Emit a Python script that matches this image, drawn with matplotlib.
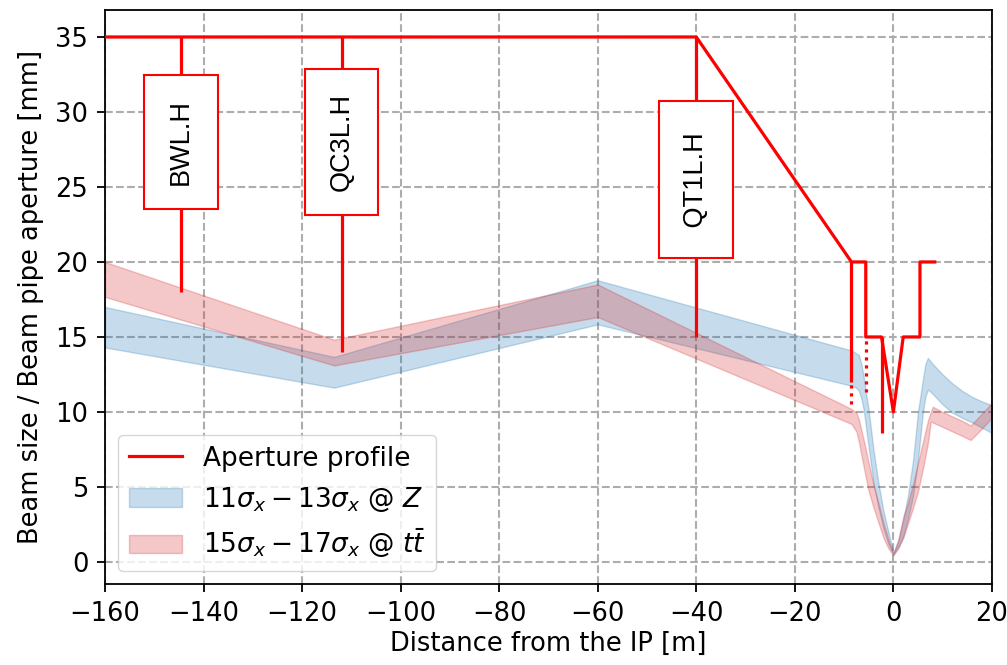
"""Horizontal beam envelope vs. beam-pipe aperture upstream of the IP."""
import matplotlib

matplotlib.use("Agg")
import matplotlib.pyplot as plt  # noqa: E402

# aperture outline (mm) along s (m)
APER_S = [-160, -40, -8.5, -5.6, -5.6, -2.4, 0, 2, 5.4, 5.4, 8.4]
APER_R = [35, 35, 20, 20, 15, 15, 10, 15, 15, 20, 20]
# solid steps dropping below the outline
STEP_S = [-8.5, -2.4]
STEP_TOP = [20, 15]
STEP_BOTTOM = [12, 8.6]
# dotted continuations
DOT_S = [-8.5, -5.6]
DOT_TOP = [12, 15]
DOT_BOTTOM = [10.5, 11.3]

# beam elements marked on the aperture
ELEM_NAMES = ["BWL.H", "QC3L.H", " QT1L.H "]
ELEM_S = [-144.6, -112.0, -40.0]
ELEM_BOTTOM = [18, 14, 15]
ELEM_LABEL_Y = [28, 28, 25.5]

# 11-13 sigma_x envelope at Z
Z_S = [-160, -113.5, -60, -8.5, -7.5, -7, -6.5, -6, -5, -4, -3, -2, -1, 0,
       1, 2, 3, 4, 5, 6, 6.5, 7, 8, 10, 12, 14, 16, 18, 20]
Z_LO = [14.3, 11.62, 15.84, 11.75, 11.6, 11.4, 10.9, 10.1, 7.6, 5.2, 3.6, 2.2, 1.2, 0.5,
        1.0, 1.7, 2.9, 4.4, 6.8, 10.0, 11.0, 11.5, 11.2, 10.5, 9.95, 9.6, 9.3, 8.95, 8.6]
Z_HI = [17.0, 13.67, 18.78, 14.1, 13.9, 13.8, 13.2, 12.3, 10.1, 7.4, 5.2, 3.4, 2.0, 0.6,
        1.4, 2.8, 4.5, 6.8, 10.0, 12.2, 13.2, 13.6, 13.2, 12.5, 11.9, 11.4, 11.0, 10.7, 10.45]

# 15-17 sigma_x envelope at ttbar
TT_S = [-160, -113.5, -60, -8.5, -7.5, -7, -6, -5, -4, -3, -2, -1, 0,
        1, 2, 3, 4, 5, 6, 7, 7.6, 8, 10, 12, 14, 15.7, 18, 20]
TT_LO = [17.67, 13.1, 16.33, 9.2, 8.7, 8.0, 6.3, 4.7, 3.6, 2.6, 1.6, 0.9, 0.45,
         0.9, 1.6, 2.6, 3.6, 4.7, 6.2, 7.9, 9.36, 9.3, 9.0, 8.7, 8.4, 8.13, 8.9, 9.6]
TT_HI = [20.0, 14.82, 18.5, 10.2, 9.95, 9.5, 8.1, 6.6, 5.1, 3.9, 2.6, 1.5, 0.55,
         1.5, 3.0, 4.0, 5.2, 6.6, 8.0, 9.4, 10.0, 10.35, 10.0, 9.7, 9.4, 9.1, 9.9, 10.6]

FS = 18.5


def main():
    plt.rcParams["font.size"] = FS
    fig = plt.figure(figsize=(10.07, 6.65), dpi=100)
    ax = fig.add_axes([0.1043, 0.1218, 0.8807, 0.8632])

    ax.fill_between(Z_S, Z_LO, Z_HI, color="tab:blue", alpha=0.25,
                    label=r"$11\sigma_x - 13\sigma_x$ @ $Z$", zorder=2)
    ax.fill_between(TT_S, TT_LO, TT_HI, color="tab:red", alpha=0.25,
                    label=r"$15\sigma_x - 17\sigma_x$ @ $t\bar{t}$", zorder=2)

    red = dict(color="red", lw=2.3, zorder=4)
    ax.plot(APER_S, APER_R, label="Aperture profile", **red)
    ax.vlines(STEP_S, STEP_BOTTOM, STEP_TOP, **red)
    ax.vlines(DOT_S, DOT_BOTTOM, DOT_TOP, linestyles=(0, (1, 1.5)), **red)

    ax.vlines(ELEM_S, ELEM_BOTTOM, 35, **red)
    for name, s, y in zip(ELEM_NAMES, ELEM_S, ELEM_LABEL_Y):
        ax.text(s, y, name, rotation=90, ha="center", va="center",
                family="Liberation Sans", fontsize=19.5, zorder=5,
                bbox=dict(boxstyle="square,pad=0.88", fc="white", ec="red", lw=1.5))

    ax.set_xlim(-160, 20)
    ax.set_ylim(-1.47, 36.8)
    ax.set_xticks(range(-160, 21, 20))
    ax.set_yticks(range(0, 36, 5))
    ax.set_xlabel("Distance from the IP [m]", labelpad=3)
    ax.set_ylabel("Beam size / Beam pipe aperture [mm]", labelpad=8)
    ax.grid(ls="--", color="0.68", lw=1.5)
    ax.tick_params(length=6, width=1.3, pad=6)
    for sp in ax.spines.values():
        sp.set_linewidth(1.3)

    handles, labels = ax.get_legend_handles_labels()
    order = [2, 0, 1]
    ax.legend([handles[i] for i in order], [labels[i] for i in order],
              loc="lower left", fontsize=19)

    fig.savefig("out.png", dpi=100)
    plt.close(fig)


if __name__ == "__main__":
    main()
